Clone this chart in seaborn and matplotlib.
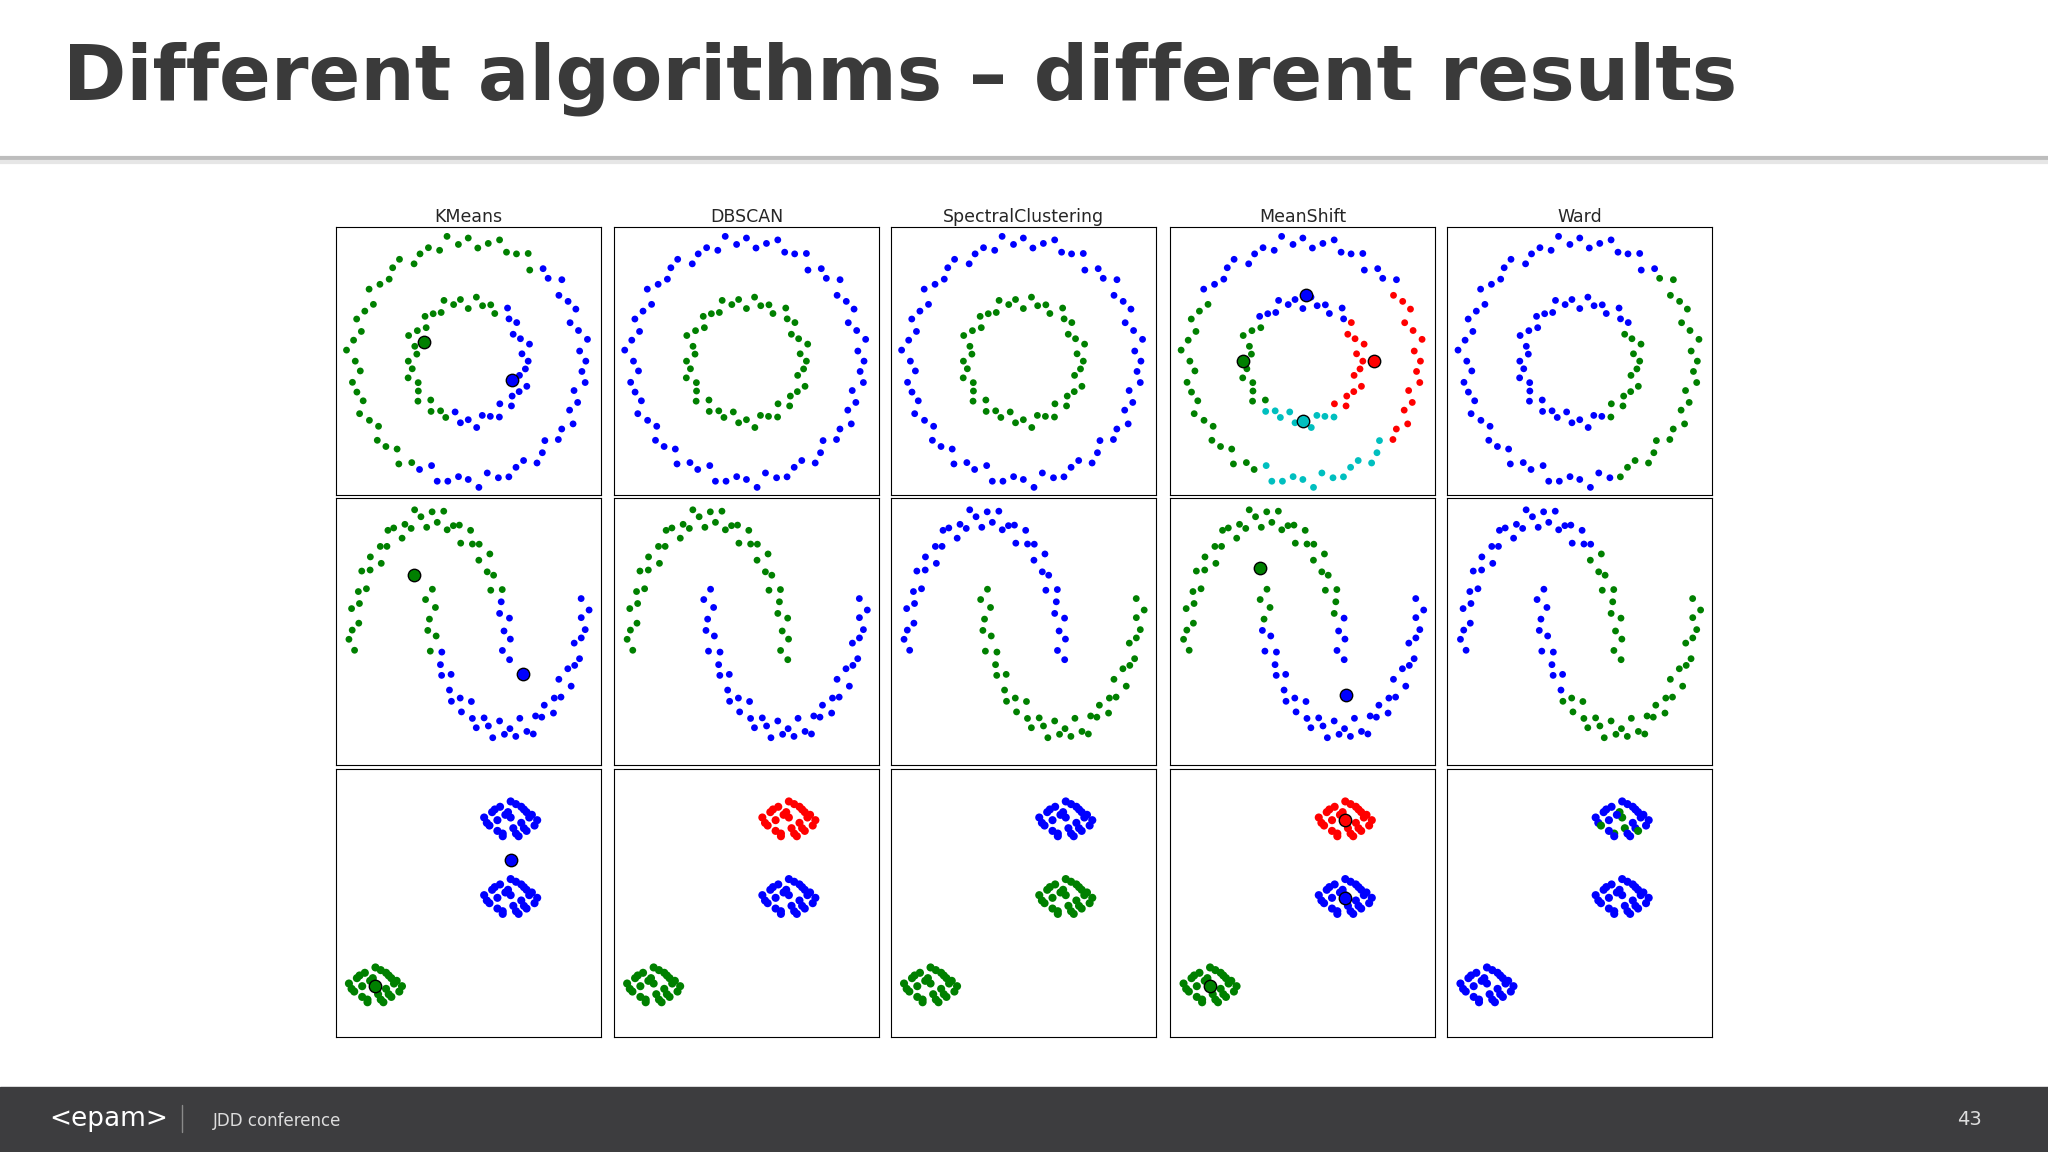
import numpy as np
import pandas as pd
import matplotlib
matplotlib.use("Agg")
import matplotlib.pyplot as plt
from matplotlib.patches import Rectangle
from matplotlib.lines import Line2D
import seaborn as sns

sns.set_style("white")
plt.rcParams['font.family'] = ['DejaVu Sans']

algorithms = ["KMeans", "DBSCAN", "SpectralClustering", "MeanShift", "Ward"]
palette = {"b": "#0000ff", "g": "#008000", "r": "#ff0000", "c": "#00bfbf"}

# --- circles dataset (polar: angle in degrees, radius) ---
outer_ang = list(range(0, 360, 5))
outer_r = [1.02, 0.97, 1.05, 0.99, 0.94, 1.03, 1.00, 0.96, 1.06, 0.98, 1.01, 0.93, 1.04, 0.99, 0.97, 1.05,
           1.00, 0.95, 1.03, 0.98, 1.06, 0.96, 1.01, 0.99, 0.94, 1.04, 1.02, 0.97, 1.00, 1.05, 0.95, 0.99,
           1.03, 0.96, 1.01, 1.06, 0.98, 0.94, 1.02, 1.00, 0.97, 1.04, 0.99, 0.95, 1.03, 1.01, 0.96, 1.05,
           0.98, 1.00, 0.93, 1.04, 1.02, 0.97, 0.99, 1.06, 0.95, 1.01, 1.03, 0.98, 0.96, 1.04, 1.00, 0.94,
           1.02, 0.99, 1.05, 0.97, 1.01, 0.95, 1.03, 0.99]
inner_ang = [i * 7.5 for i in range(48)]
inner_r = [0.52, 0.47, 0.55, 0.49, 0.45, 0.53, 0.50, 0.56, 0.46, 0.51, 0.48, 0.54, 0.44, 0.52, 0.49, 0.55,
           0.47, 0.50, 0.53, 0.46, 0.51, 0.56, 0.48, 0.45, 0.52, 0.49, 0.54, 0.47, 0.50, 0.55, 0.46, 0.53,
           0.48, 0.51, 0.44, 0.52, 0.49, 0.56, 0.47, 0.50, 0.54, 0.45, 0.53, 0.48, 0.51, 0.55, 0.46, 0.50]

# --- moons dataset (parameter angle in degrees, radial jitter) ---
moon_t = list(range(0, 180, 4))
upper_dr = [0.03, -0.06, 0.05, -0.02, 0.07, -0.04, 0.01, 0.06, -0.07, 0.02, -0.03, 0.08, -0.05, 0.04, -0.01,
            0.06, -0.08, 0.03, 0.00, -0.05, 0.07, -0.02, 0.05, -0.06, 0.02, 0.08, -0.04, 0.01, -0.07, 0.04,
            0.06, -0.03, 0.02, -0.08, 0.05, -0.01, 0.07, -0.05, 0.03, -0.02, 0.06, -0.06, 0.01, 0.04, -0.04]
lower_dr = [-0.04, 0.05, -0.07, 0.02, 0.06, -0.03, 0.08, -0.05, 0.01, 0.04, -0.06, 0.03, 0.07, -0.02, 0.05,
            -0.08, 0.02, 0.06, -0.04, 0.00, 0.07, -0.06, 0.03, -0.01, 0.05, -0.07, 0.04, 0.08, -0.03, 0.01,
            -0.05, 0.06, -0.02, 0.03, -0.08, 0.07, -0.04, 0.02, 0.05, -0.06, 0.01, 0.04, -0.03, 0.06, -0.05]

# --- blobs dataset (centres and offsets, unit box) ---
blob_cx = [0.66, 0.66, 0.15]
blob_cy = [0.81, 0.52, 0.19]
blob_dx = [0.00, 0.05, -0.06, 0.08, -0.03, 0.02, -0.09, 0.06, -0.01, 0.04, -0.05, 0.09, -0.07, 0.03, 0.07,
           -0.04, 0.01, -0.08, 0.05, -0.02, 0.10, -0.10, 0.02, -0.05, 0.06, 0.00, -0.03, 0.04]
blob_dy = [0.01, -0.03, 0.04, 0.02, -0.05, 0.06, -0.01, -0.04, 0.03, 0.05, 0.00, -0.02, 0.03, -0.06, 0.01,
           0.05, -0.03, -0.02, 0.04, 0.02, 0.00, 0.01, -0.05, -0.04, 0.03, 0.07, -0.06, -0.01]

# --- labels per algorithm, run-length encoded: (colour, count) ---
circ_outer_lab = {
    "KMeans": [("b", 11), ("g", 38), ("b", 23)],
    "DBSCAN": [("b", 72)],
    "SpectralClustering": [("b", 72)],
    "MeanShift": [("r", 8), ("b", 22), ("g", 20), ("c", 14), ("r", 8)],
    "Ward": [("g", 10), ("b", 48), ("g", 14)],
}
circ_inner_lab = {
    "KMeans": [("b", 8), ("g", 26), ("b", 14)],
    "DBSCAN": [("g", 48)],
    "SpectralClustering": [("g", 48)],
    "MeanShift": [("r", 6), ("b", 13), ("g", 12), ("c", 10), ("r", 7)],
    "Ward": [("g", 5), ("b", 35), ("g", 8)],
}
moon_upper_lab = {
    "KMeans": [("b", 7), ("g", 38)],
    "DBSCAN": [("g", 45)],
    "SpectralClustering": [("b", 45)],
    "MeanShift": [("b", 5), ("g", 40)],
    "Ward": [("g", 13), ("b", 32)],
}
moon_lower_lab = {
    "KMeans": [("g", 7), ("b", 38)],
    "DBSCAN": [("b", 45)],
    "SpectralClustering": [("g", 45)],
    "MeanShift": [("g", 4), ("b", 41)],
    "Ward": [("b", 12), ("g", 33)],
}
blob_lab = {
    "KMeans": [("b", 28), ("b", 28), ("g", 28)],
    "DBSCAN": [("r", 28), ("b", 28), ("g", 28)],
    "SpectralClustering": [("b", 28), ("g", 28), ("g", 28)],
    "MeanShift": [("r", 28), ("b", 28), ("g", 28)],
    "Ward": [("g", 1), ("b", 3), ("g", 1), ("b", 2), ("g", 2), ("b", 7), ("g", 2), ("b", 10), ("b", 28), ("b", 28)],
}
# cluster centres drawn by KMeans / MeanShift
circ_centres = {"KMeans": [(-0.38, 0.16, "g"), (0.38, -0.16, "b")],
                "MeanShift": [(0.03, 0.55, "b"), (0.62, 0.0, "r"), (-0.52, 0.0, "g"), (0.0, -0.5, "c")]}
moon_centres = {"KMeans": [(-0.2, 0.6, "g"), (1.2, -0.1, "b")],
                "MeanShift": [(-0.05, 0.65, "g"), (1.05, -0.25, "b")]}
blob_centres = {"KMeans": [(0.66, 0.66, "b"), (0.15, 0.19, "g")],
                "MeanShift": [(0.66, 0.81, "r"), (0.66, 0.52, "b"), (0.15, 0.19, "g")]}


def expand(rle):
    out = []
    for c, n in rle:
        out += [c] * n
    return out


def circ_df(alg):
    a = np.deg2rad(np.array(outer_ang + inner_ang))
    r = np.array(outer_r + inner_r)
    return pd.DataFrame({"x": r * np.cos(a), "y": r * np.sin(a),
                         "lab": expand(circ_outer_lab[alg]) + expand(circ_inner_lab[alg])})


def moon_df(alg):
    t = np.deg2rad(np.array(moon_t))
    ru = 1 + np.array(upper_dr)
    rl = 1 + np.array(lower_dr)
    x = np.concatenate([ru * np.cos(t), 1 - rl * np.cos(t)])
    y = np.concatenate([ru * np.sin(t), 0.5 - rl * np.sin(t)])
    return pd.DataFrame({"x": x, "y": y, "lab": expand(moon_upper_lab[alg]) + expand(moon_lower_lab[alg])})


def blob_df(alg):
    xs, ys = [], []
    for cx, cy in zip(blob_cx, blob_cy):
        xs += [cx + d for d in blob_dx]
        ys += [cy + d for d in blob_dy]
    return pd.DataFrame({"x": xs, "y": ys, "lab": expand(blob_lab[alg])})


W, H = 1568.0, 882.0
fig = plt.figure(figsize=(20.48, 11.52), dpi=100)
fig.patch.set_facecolor("white")

col_left = [257, 470, 682, 896, 1108]
row_top = [174, 381, 589]
pw, ph = 203, 205
rows = [(circ_df, circ_centres, (-1.15, 1.15), (-1.12, 1.12), 24),
        (moon_df, moon_centres, (-1.2, 2.2), (-0.75, 1.15), 24),
        (blob_df, blob_centres, (0, 1), (0, 1), 34)]

for ri, (fn, cents, xl, yl, size) in enumerate(rows):
    for ci, alg in enumerate(algorithms):
        ax = fig.add_axes([col_left[ci] / W, 1 - (row_top[ri] + ph) / H, pw / W, ph / H])
        df = fn(alg)
        sns.scatterplot(data=df, x="x", y="y", hue="lab", palette=palette, s=size,
                        linewidth=0, legend=False, ax=ax)
        for cx, cy, c in cents.get(alg, []):
            ax.scatter([cx], [cy], s=80, c=palette[c], edgecolors="black", linewidths=1, zorder=5)
        ax.set_xlim(*xl)
        ax.set_ylim(*yl)
        ax.set_xticks([])
        ax.set_yticks([])
        ax.set_xlabel("")
        ax.set_ylabel("")
        for sp in ax.spines.values():
            sp.set_color("black")
            sp.set_linewidth(0.8)
        if ri == 0:
            ax.set_title(alg, fontsize=12.5, pad=4)

# header
fig.text(48 / W, 1 - 60 / H, "Different algorithms \u2013 different results", fontsize=55,
         fontweight="heavy", color="#3a3a3a", va="center", ha="left")
fig.add_artist(Line2D([0, 1], [1 - 121 / H, 1 - 121 / H], color="#bdbdbd", linewidth=3))
fig.add_artist(Line2D([0, 1], [1 - 124 / H, 1 - 124 / H], color="#e6e6e6", linewidth=3))

# footer
fig.add_artist(Rectangle((0, 0), 1, 50 / H, transform=fig.transFigure, color="#3d3d3f", zorder=0))
fig.text(38 / W, 25 / H, "<epam>", fontsize=19, color="white", va="center", ha="left")
fig.add_artist(Line2D([139 / W, 139 / W], [15 / H, 36 / H], color="#8a8a8a", linewidth=1))
fig.text(163 / W, 24 / H, "JDD conference", fontsize=12, color="#dddddd", va="center", ha="left")
fig.text(1517 / W, 25 / H, "43", fontsize=14, color="#dddddd", va="center", ha="right")

fig.savefig("out.png", dpi=100)
